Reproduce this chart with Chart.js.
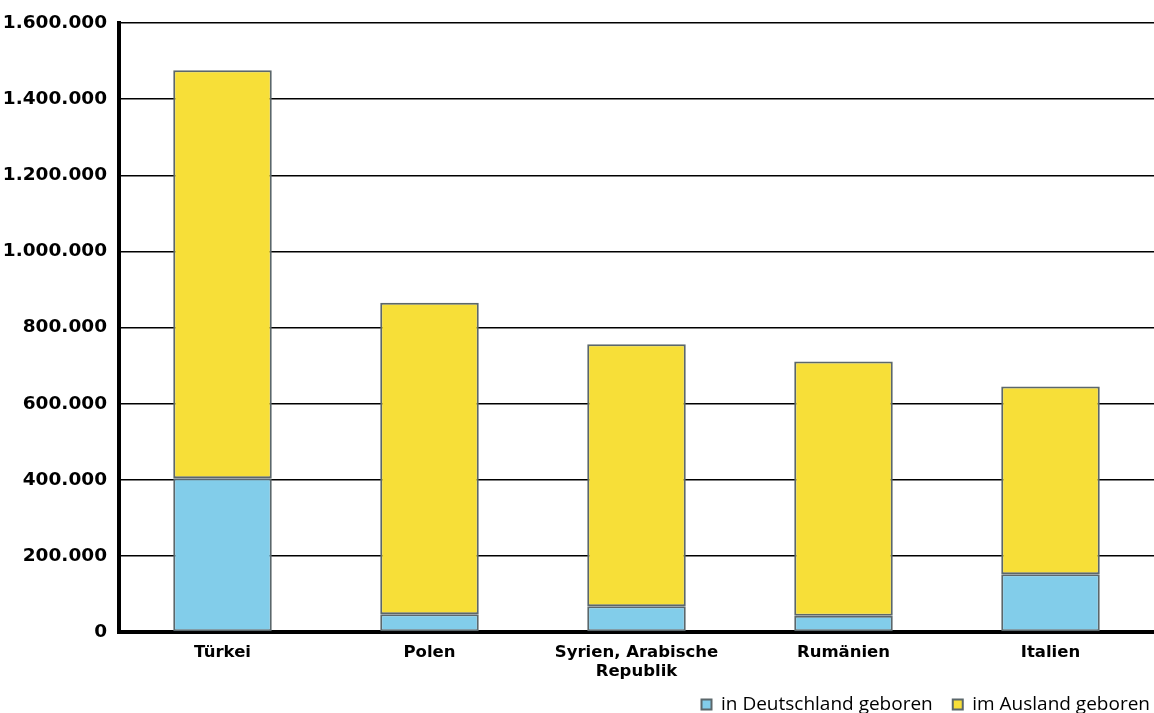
<!DOCTYPE html>
<html>
<head>
<meta charset="utf-8">
<script src="https://cdn.jsdelivr.net/npm/chart.js@4/dist/chart.umd.min.js"></script>
<style>
  html, body { margin: 0; padding: 0; background: #fff; }
  #wrap { width: 1154px; height: 713px; position: relative; }
</style>
</head>
<body>
<div id="wrap"><canvas id="c" width="1154" height="713"></canvas></div>
<script>
// Herkunftsländer
const categories = ['Türkei', 'Polen', ['Syrien, Arabische', 'Republik'], 'Rumänien', 'Italien'];
// Personen, in Deutschland geboren
const bornInGermany = [404000, 47000, 68000, 43000, 152000];
// Personen, im Ausland geboren
const bornAbroad = [1072000, 818000, 688000, 668000, 493000];
const seriesNames = ['in Deutschland geboren', 'im Ausland geboren'];
const yTicks = [0, 200000, 400000, 600000, 800000, 1000000, 1200000, 1400000, 1600000];

function formatDE(v) {
  return String(v).replace(/\B(?=(\d{3})+(?!\d))/g, '.');
}

const barStyle = {
  borderColor: '#5b676b',
  borderWidth: 2,
  borderSkipped: false,
  categoryPercentage: 1,
  barPercentage: 0.476
};

// Tuck the legend row in just under the category labels, flush to the right edge
const legendNudge = {
  id: 'legendNudge',
  beforeDraw(chart) {
    const lg = chart.legend;
    if (!lg) return;
    const dy = (chart.height - 38) - lg.top;
    const dx = (chart.width + 16) - lg.right;
    if (dy !== 0 || dx !== 0) {
      lg.top += dy; lg.bottom += dy;
      lg.left += dx; lg.right += dx;
      (lg.legendHitBoxes || []).forEach(b => { b.top += dy; b.left += dx; });
    }
  }
};

new Chart(document.getElementById('c'), {
  type: 'bar',
  data: {
    labels: categories,
    datasets: [
      Object.assign({ label: seriesNames[0], data: bornInGermany, backgroundColor: '#82cdea' }, barStyle),
      Object.assign({ label: seriesNames[1], data: bornAbroad, backgroundColor: '#f7df38' }, barStyle)
    ]
  },
  plugins: [legendNudge],
  options: {
    responsive: false,
    animation: false,
    layout: { padding: { left: 1, right: 0, top: 20, bottom: -28 } },
    plugins: {
      tooltip: { enabled: false },
      legend: {
        position: 'bottom',
        align: 'end',
        labels: {
          boxWidth: 10,
          boxHeight: 10,
          padding: 20,
          color: '#000',
          font: { family: 'Open Sans', size: 19, lineHeight: 1.0 }
        }
      }
    },
    scales: {
      x: {
        stacked: true,
        grid: { display: false, drawTicks: false },
        border: { color: '#000', width: 4 },
        ticks: {
          color: '#000',
          padding: 11,
          font: { family: 'DejaVu Sans', size: 16.5, weight: 'bold', lineHeight: 1.15 },
          maxRotation: 0,
          autoSkip: false
        }
      },
      y: {
        stacked: true,
        min: 0,
        max: 1600000,
        afterBuildTicks: (axis) => { axis.ticks = yTicks.map(v => ({ value: v })); },
        afterFit: (axis) => { axis.width = 118; },
        grid: { color: '#000', lineWidth: 1.6, drawTicks: false },
        border: { color: '#000', width: 4 },
        ticks: {
          color: '#000',
          padding: 12,
          font: { family: 'DejaVu Sans', size: 18.5, weight: 'bold' },
          callback: (v) => formatDE(v)
        }
      }
    }
  }
});
</script>
</body>
</html>
